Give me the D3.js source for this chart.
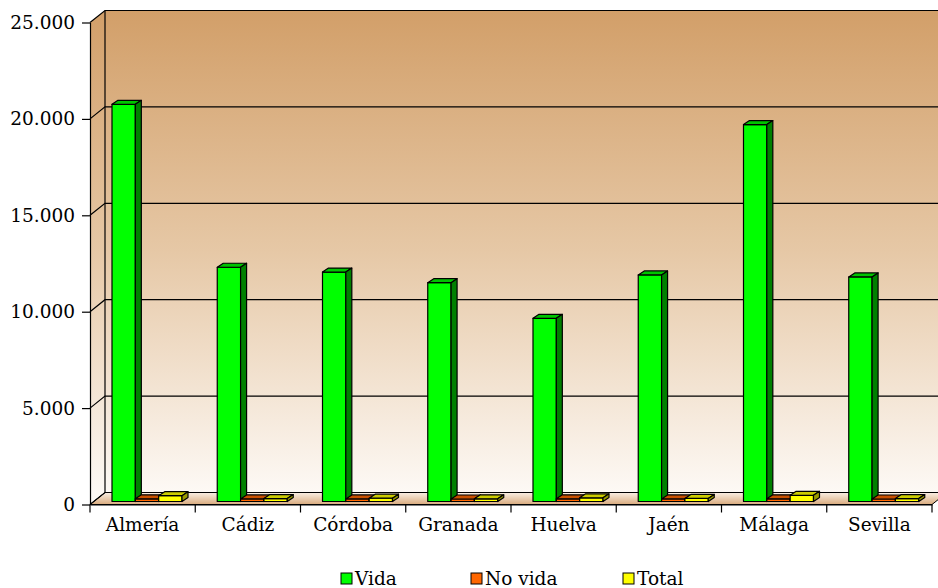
<!DOCTYPE html>
<html>
<head>
<meta charset="utf-8">
<script src="https://cdn.jsdelivr.net/npm/d3@7"></script>
<style>
  html, body { margin: 0; padding: 0; background: #fff; }
  svg { display: block; }
  text { font-family: "DejaVu Serif", serif; fill: #000; }
</style>
</head>
<body>
<svg id="chart" width="938" height="588"></svg>
<script>
// Provinces and series
const categories = ["Almería", "Cádiz", "Córdoba", "Granada", "Huelva", "Jaén", "Málaga", "Sevilla"];
const seriesNames = ["Vida", "No vida", "Total"];
const vida   = [20600, 12150, 11900, 11350, 9500, 11750, 19550, 11650];
const noVida = [140, 135, 135, 130, 140, 135, 140, 130];
const total  = [300, 150, 170, 140, 190, 160, 320, 150];
const yTicks = [0, 5000, 10000, 15000, 20000, 25000];

const seriesValues = [vida, noVida, total];
const faceColors = [
  { front: "#00ff00", top: "#00c400", side: "#008000" },
  { front: "#ff6600", top: "#c85000", side: "#993d00" },
  { front: "#ffff00", top: "#cccc00", side: "#999900" }
];

const svg = d3.select("#chart");
const W = 938, H = 588;
const FONT = "18.5px";

// Spanish number format: 25.000
const es = d3.formatLocale({ decimal: ",", thousands: ".", grouping: [3], currency: ["", " €"] });
const fmt = es.format(",d");

// Scales
const y = d3.scaleLinear().domain([0, 25000]).range([504.5, 22.5]);
const x0 = d3.scaleBand().domain(categories).range([90, 932]).paddingInner(0).paddingOuter(0);
const x1 = d3.scaleBand().domain(seriesNames).range([18, 88]);

// Wall depth and bar depth offsets
const wallDx = 15, wallDy = -12;
const barShiftX = 4, barShiftY = -3;
const barDx = 6, barDy = -4;

const defs = svg.append("defs");
const wallGrad = defs.append("linearGradient").attr("id", "wallGrad")
  .attr("gradientUnits", "userSpaceOnUse")
  .attr("x1", 0).attr("y1", y(25000) + wallDy).attr("x2", 0).attr("y2", y(0) + wallDy);
wallGrad.append("stop").attr("offset", 0).attr("stop-color", "#d29f69");
wallGrad.append("stop").attr("offset", 0.5).attr("stop-color", "#e6c8a6");
wallGrad.append("stop").attr("offset", 1).attr("stop-color", "#fdf9f5");

const floorGrad = defs.append("linearGradient").attr("id", "floorGrad")
  .attr("gradientUnits", "userSpaceOnUse")
  .attr("x1", 0).attr("y1", y(0) + wallDy).attr("x2", 0).attr("y2", y(0));
floorGrad.append("stop").attr("offset", 0).attr("stop-color", "#faefe4");
floorGrad.append("stop").attr("offset", 1).attr("stop-color", "#d9ab7e");

const xL = x0.range()[0], xR = x0.range()[1];
const yTop = y(25000), yBase = y(0);

// Back wall
svg.append("rect")
  .attr("x", xL + wallDx).attr("y", yTop + wallDy)
  .attr("width", W - (xL + wallDx) + 20).attr("height", yBase - yTop)
  .attr("fill", "url(#wallGrad)");

// Side wall
svg.append("path")
  .attr("d", `M${xL},${yTop}L${xL + wallDx},${yTop + wallDy}L${xL + wallDx},${yBase + wallDy}L${xL},${yBase}Z`)
  .attr("fill", "url(#wallGrad)");

// Floor
svg.append("path")
  .attr("d", `M${xL},${yBase}L${xL + wallDx},${yBase + wallDy}L${xR + wallDx},${yBase + wallDy}L${xR},${yBase}Z`)
  .attr("fill", "url(#floorGrad)")
  .attr("stroke", "#000").attr("stroke-width", 1);

// Gridlines on walls
const grid = svg.append("g").attr("stroke", "#000").attr("stroke-width", 1.2).attr("fill", "none");
yTicks.forEach(v => {
  const yy = y(v);
  grid.append("path").attr("d", `M${xL},${yy}L${xL + wallDx},${yy + wallDy}L${W + 20},${yy + wallDy}`);
});
// Back wall left edge
grid.append("line")
  .attr("x1", xL + wallDx).attr("x2", xL + wallDx)
  .attr("y1", yTop + wallDy).attr("y2", yBase + wallDy);

// Bars
const bars = svg.append("g");
categories.forEach((cat, i) => {
  seriesNames.forEach((s, j) => {
    const v = seriesValues[j][i];
    const c = faceColors[j];
    const bx = x0(cat) + x1(s) + barShiftX;
    const bw = x1.bandwidth();
    const yt = y(v) + barShiftY;
    const yb = y(0) + barShiftY;
    const g = bars.append("g").attr("stroke", "#000").attr("stroke-width", 1.2).attr("stroke-linejoin", "round");
    g.append("rect").attr("x", bx).attr("y", yt).attr("width", bw).attr("height", yb - yt).attr("fill", c.front);
    g.append("path")
      .attr("d", `M${bx},${yt}L${bx + barDx},${yt + barDy}L${bx + bw + barDx},${yt + barDy}L${bx + bw},${yt}Z`)
      .attr("fill", c.top);
    g.append("path")
      .attr("d", `M${bx + bw},${yt}L${bx + bw + barDx},${yt + barDy}L${bx + bw + barDx},${yb + barDy}L${bx + bw},${yb}Z`)
      .attr("fill", c.side);
  });
});

// Y axis
const yAxis = d3.axisLeft(y).tickValues(yTicks).tickFormat(fmt).tickSize(8).tickSizeOuter(0).tickPadding(7);
const gy = svg.append("g").attr("transform", `translate(${xL},0)`).call(yAxis);
gy.selectAll("path, line").attr("stroke", "#000").attr("stroke-width", 1.2);
gy.selectAll("text").style("font-family", "'DejaVu Serif', serif").style("font-size", FONT).attr("fill", "#000");

// X axis: labels centred in each band, ticks on band boundaries
const xAxis = d3.axisBottom(x0).tickSize(0).tickSizeOuter(0).tickPadding(13);
const gx = svg.append("g").attr("transform", `translate(0,${yBase})`).call(xAxis);
gx.select(".domain").attr("stroke", "#000").attr("stroke-width", 1.2);
gx.selectAll("text").style("font-family", "'DejaVu Serif', serif").style("font-size", FONT).attr("fill", "#000");
const boundaries = categories.map(c => x0(c)).concat([xR]);
svg.append("g").selectAll("line").data(boundaries).join("line")
  .attr("x1", d => d).attr("x2", d => d)
  .attr("y1", yBase).attr("y2", yBase + 8)
  .attr("stroke", "#000").attr("stroke-width", 1.2);

// Legend
const legendX = [341, 471, 623];
const legend = svg.append("g");
seriesNames.forEach((s, j) => {
  legend.append("rect")
    .attr("x", legendX[j]).attr("y", 573).attr("width", 11).attr("height", 11)
    .attr("fill", faceColors[j].front).attr("stroke", "#000").attr("stroke-width", 1);
  legend.append("text")
    .attr("x", legendX[j] + 14).attr("y", 585)
    .style("font-size", FONT)
    .text(s);
});
</script>
</body>
</html>
